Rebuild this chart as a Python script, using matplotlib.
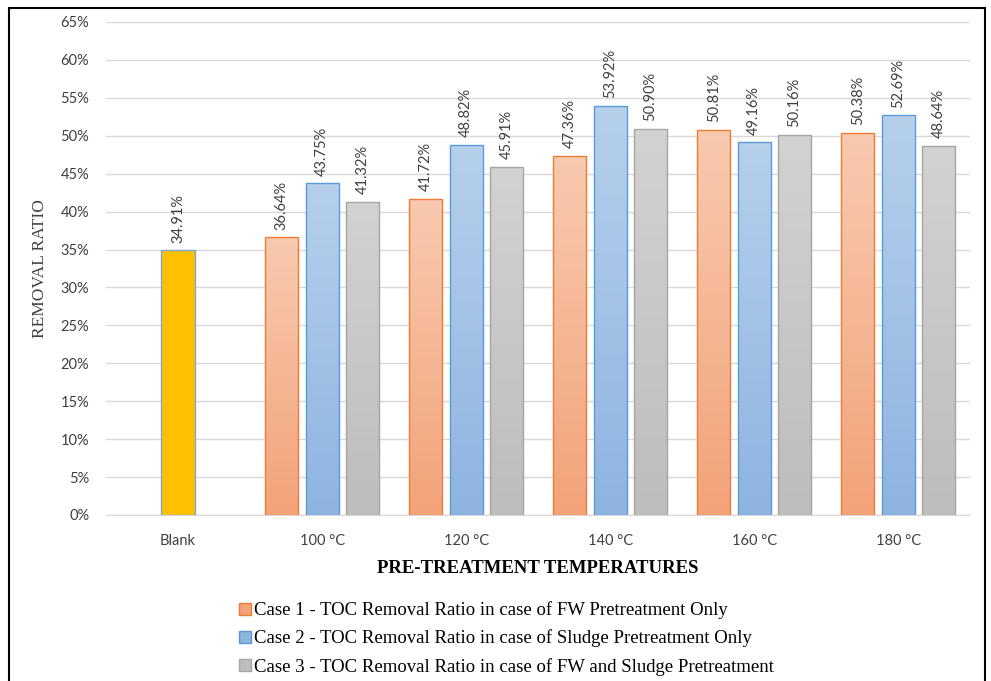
import numpy as np
import matplotlib
matplotlib.use("Agg")
import matplotlib.pyplot as plt
from matplotlib.colors import LinearSegmentedColormap
from matplotlib.patches import Rectangle, Patch
from matplotlib.ticker import FuncFormatter, MultipleLocator

categories = ["Blank", "100 \u00b0C", "120 \u00b0C", "140 \u00b0C", "160 \u00b0C", "180 \u00b0C"]
blank_value = 34.91
case1 = [36.64, 41.72, 47.36, 50.81, 50.38]
case2 = [43.75, 48.82, 53.92, 49.16, 52.69]
case3 = [41.32, 45.91, 50.90, 50.16, 48.64]
legend_labels = [
    "Case 1 - TOC Removal Ratio in case of FW Pretreatment Only",
    "Case 2 - TOC Removal Ratio in case of Sludge Pretreatment Only",
    "Case 3 - TOC Removal Ratio in case of FW and Sludge Pretreatment",
]

# (top colour, bottom colour, edge)
styles = [
    ("#F8C9AE", "#F3A37A", "#ED7D31"),
    ("#B6D0EC", "#8EB4E0", "#5B9BD5"),
    ("#D2D2D2", "#BDBDBD", "#A5A5A5"),
]
blank_style = ("#FFC000", "#FFC000", "#7FA7D6")

fig = plt.figure(figsize=(9.91, 6.81), dpi=100)
ax = fig.add_axes([0.107, 0.2438, 0.872, 0.7239])

width = 0.23
step = 0.28


def grad_bar(x, h, st):
    b = ax.bar(x, h, width, facecolor="none", edgecolor=st[2], linewidth=1.0, zorder=3)[0]
    cmap = LinearSegmentedColormap.from_list("g", [st[1], st[0]])
    grad = np.linspace(0, 1, 64).reshape(-1, 1)
    im = ax.imshow(grad, extent=[x - width / 2, x + width / 2, 0, h], origin="lower",
                   cmap=cmap, aspect="auto", zorder=2)
    im.set_clip_path(b)
    ax.text(x, h + 1.0, f"{h:.2f}%", rotation=90, ha="center", va="bottom",
            fontsize=10.5, color="#404040", family="Lato", zorder=4)


grad_bar(0, blank_value, blank_style)
for i, vals in enumerate([case1, case2, case3]):
    for j, v in enumerate(vals):
        grad_bar(j + 1 + (i - 1) * step, v, styles[i])

ax.set_xlim(-0.5, len(categories) - 0.5)
ax.set_ylim(0, 65)
ax.yaxis.set_major_locator(MultipleLocator(5))
ax.yaxis.set_major_formatter(FuncFormatter(lambda v, p: f"{v:.0f}%"))
ax.set_xticks(range(len(categories)))
ax.set_xticklabels(categories)
ax.tick_params(axis="y", length=0, labelsize=10.5, labelcolor="#404040", pad=12)
ax.tick_params(axis="x", length=0, labelsize=10.5, labelcolor="#404040", pad=14)
for lab in ax.get_xticklabels() + ax.get_yticklabels():
    lab.set_family("Lato")
ax.grid(axis="y", color="#D9D9D9", linewidth=1.0, zorder=0)
ax.set_axisbelow(True)
for s in ["top", "right", "left"]:
    ax.spines[s].set_visible(False)
ax.spines["bottom"].set_color("#D9D9D9")

ax.set_ylabel("REMOVAL RATIO", family="Liberation Serif", fontsize=12.5, color="#404040", labelpad=9)
ax.set_xlabel("PRE-TREATMENT TEMPERATURES", family="Liberation Serif", fontsize=13.5,
              fontweight="bold", color="black", labelpad=8)

handles = [Patch(facecolor=st[1], edgecolor=st[2]) for st in styles]
fig.legend(handles, legend_labels, loc="upper left", bbox_to_anchor=(0.234, 0.128),
           frameon=False, prop={"family": "Liberation Serif", "size": 13.5},
           handlelength=0.6, handleheight=0.6, handletextpad=0.2, labelspacing=0.55,
           borderaxespad=0)

fig.patches.append(Rectangle((0.009, -0.01), 0.985, 0.998, transform=fig.transFigure,
                             fill=False, edgecolor="black", linewidth=1.5))

fig.savefig("out.png", dpi=100)
